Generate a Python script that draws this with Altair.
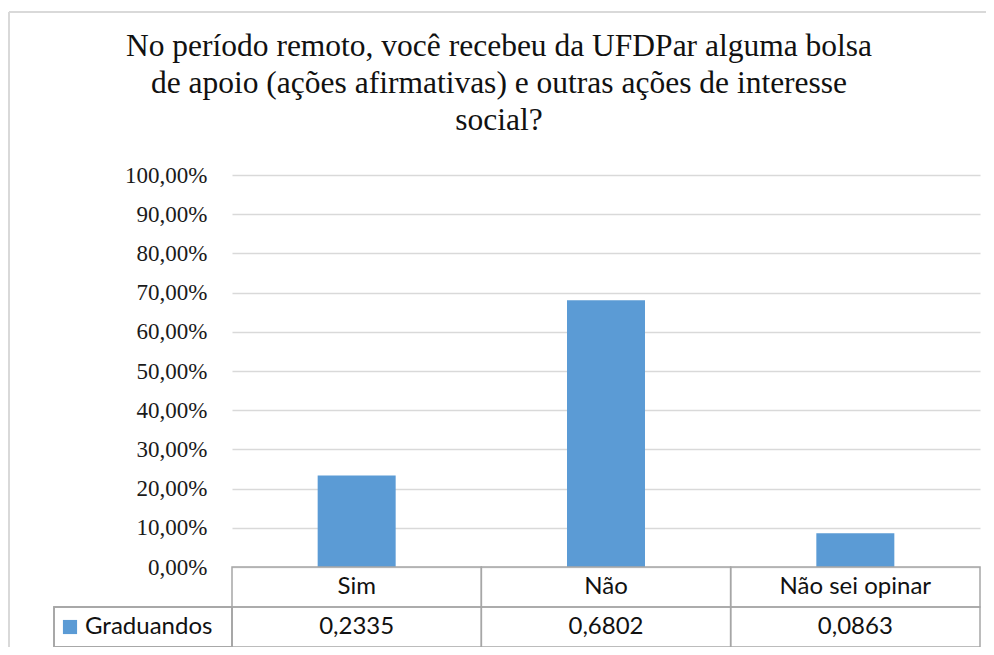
import altair as alt
import pandas as pd

title_lines = [
    "No período remoto, você recebeu da UFDPar alguma bolsa",
    "de apoio (ações afirmativas) e outras ações de interesse",
    "social?",
]
categories = ["Sim", "Não", "Não sei opinar"]
values = [0.2335, 0.6802, 0.0863]
series_name = "Graduandos"
y_ticks = [0.0, 0.1, 0.2, 0.3, 0.4, 0.5, 0.6, 0.7, 0.8, 0.9, 1.0]

BAR = "#5B9BD5"
GRID = "#D9D9D9"
TABLE = "#A6A6A6"
SERIF = "Liberation Serif, Times New Roman, serif"

ROW = 0.102  # height of one table row in y units (same as plot scale)

df = pd.DataFrame({"cat": categories, "value": values})

x_enc = alt.X("cat:N", sort=categories, axis=None,
              scale=alt.Scale(paddingInner=0, paddingOuter=0))
y_scale = alt.Scale(domain=[-2 * ROW, 1.0], nice=False, zero=False)

base = alt.Chart(df)

bars = base.mark_bar(color=BAR, size=78).encode(
    x=x_enc,
    y=alt.Y("value:Q", scale=y_scale, title=None,
            axis=alt.Axis(values=y_ticks, grid=True, gridColor=GRID, gridWidth=1.3,
                          domain=False, ticks=False, labelPadding=25,
                          labelFont=SERIF, labelFontSize=23,
                          labelColor="#1a1a1a",
                          labelExpr="replace(format(datum.value, '.2%'), '.', ',')")),
)

header_cells = base.mark_rect(fill=None, stroke=TABLE, strokeWidth=1.5).encode(
    x=x_enc,
    y=alt.datum(0.0),
    y2=alt.datum(-ROW),
)
value_cells = base.mark_rect(fill=None, stroke=TABLE, strokeWidth=1.5).encode(
    x=x_enc,
    y=alt.datum(-ROW),
    y2=alt.datum(-2 * ROW),
)
legend_cell = base.mark_rect(fill=None, stroke=TABLE, strokeWidth=1.5).encode(
    x=alt.value(-178),
    x2=alt.value(0),
    y=alt.datum(-ROW),
    y2=alt.datum(-2 * ROW),
)

header_text = base.mark_text(font="Lato", fontSize=24, color="#111").encode(
    x=x_enc,
    y=alt.datum(-ROW / 2),
    text="cat:N",
)
value_text = base.transform_calculate(
    label="replace(format(datum.value, '.4f'), '.', ',')"
).mark_text(font="Lato", fontSize=24, color="#111").encode(
    x=x_enc,
    y=alt.datum(-1.5 * ROW),
    text="label:N",
)

leg_df = pd.DataFrame({"name": [series_name]})
legend_square = alt.Chart(leg_df).mark_square(color=BAR, size=200, opacity=1).encode(
    x=alt.value(-162),
    y=alt.datum(-1.5 * ROW),
)
legend_text = alt.Chart(leg_df).mark_text(font="Lato", fontSize=24, color="#111",
                                          align="left").encode(
    x=alt.value(-147),
    y=alt.datum(-1.5 * ROW),
    text="name:N",
)

frame_top = alt.Chart(leg_df).mark_rule(color=GRID, strokeWidth=2).encode(
    x=alt.value(-223), x2=alt.value(760), y=alt.value(-163)
)
frame_left = alt.Chart(leg_df).mark_rule(color=GRID, strokeWidth=2).encode(
    x=alt.value(-223), y=alt.value(-163), y2=alt.value(490)
)

chart = alt.layer(
    frame_top, frame_left, bars, header_cells, value_cells, legend_cell,
    header_text, value_text, legend_square, legend_text,
).properties(
    width=748,
    height=392 + 80,
    background="white",
    title=alt.TitleParams(text=title_lines, anchor="middle", dx=-107,
                          font=SERIF, fontSize=31.5, fontWeight="normal",
                          color="#111", lineHeight=37, offset=-125),
    autosize=alt.AutoSizeParams(type="none"),
    padding={"left": 224, "top": 167, "right": 6, "bottom": 0},
).configure_view(stroke=None).configure_title(font=SERIF)

chart.save("out.html", embed_options={"renderer": "svg", "actions": False})
